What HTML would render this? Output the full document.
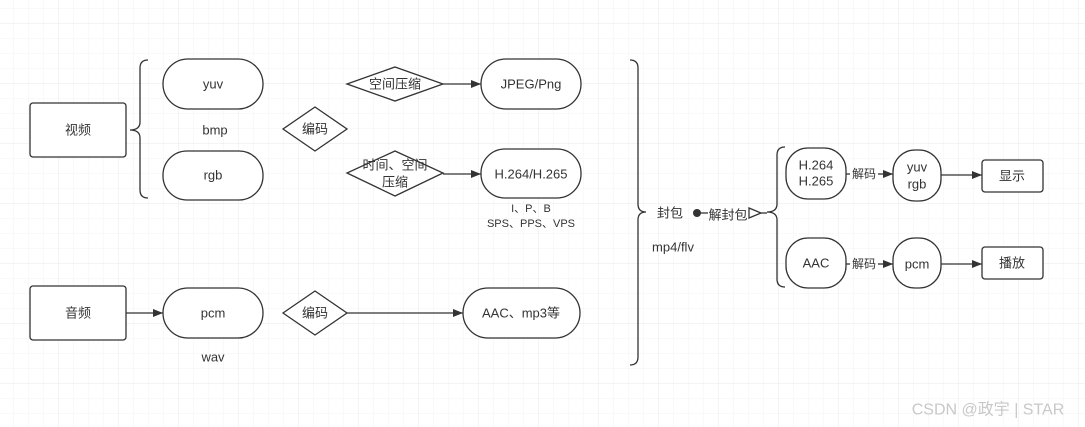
<!DOCTYPE html>
<html><head><meta charset="utf-8"><style>
html,body{margin:0;padding:0;background:#fff;}
svg{display:block;font-family:"Liberation Sans","Noto Sans CJK SC",sans-serif;}
text{font-size:13px;fill:#333;text-anchor:middle;dominant-baseline:central;}
</style></head><body>
<svg width="1085" height="427" viewBox="0 0 1085 427" xmlns="http://www.w3.org/2000/svg">
<defs>
<pattern id="minor" x="-1" y="9" width="15" height="15" patternUnits="userSpaceOnUse"><path d="M15 0V15M0 15H15" stroke="#f3f3f3" stroke-width="1" fill="none"/></pattern>
<pattern id="major" x="-1" y="24" width="60" height="60" patternUnits="userSpaceOnUse"><path d="M60 0V60M0 60H60" stroke="#e8e8e8" stroke-width="1" fill="none"/></pattern>
<marker id="ar" markerWidth="10" markerHeight="8" refX="10" refY="4" orient="auto" markerUnits="userSpaceOnUse"><path d="M0,0 L10,4 L0,8 Z" fill="#333"/></marker>
</defs>
<rect width="1085" height="427" fill="url(#minor)"/>
<rect width="1085" height="427" fill="url(#major)"/>
<g stroke="#333" stroke-width="1.3" fill="#fff">
<rect x="30" y="103" width="96" height="54" rx="3"/>
<rect x="30" y="286" width="96" height="54" rx="3"/>
<path d="M148 60 Q140 60 140 68 V122 Q140 130 130 130 Q140 130 140 138 V190 Q140 198 148 198" fill="none"/>
<rect x="163" y="59" width="100" height="50" rx="25"/>
<rect x="163" y="151" width="100" height="49" rx="24"/>
<rect x="163" y="288" width="100" height="50" rx="25"/>
<path d="M315 107 L347 129 L315 151 L283 129 Z"/>
<path d="M315 291 L347 313 L315 335 L283 313 Z"/>
<path d="M395 67 L443 84 L395 101 L347 84 Z"/>
<path d="M395 151 L443 173 L395 196 L347 173 Z"/>
<rect x="481" y="59" width="100" height="50" rx="25"/>
<rect x="481" y="149" width="100" height="49" rx="24"/>
<rect x="463" y="288" width="117" height="50" rx="25"/>
<path d="M630 60 Q638 60 638 68 V204 Q638 212 646 212 Q638 212 638 220 V357 Q638 365 630 365" fill="none"/>
<path d="M785 147 Q777 147 777 155 V204 Q777 212 767 212 Q777 212 777 220 V279 Q777 287 785 287" fill="none"/>
<rect x="786" y="148" width="60" height="51" rx="22"/>
<rect x="786" y="238" width="60" height="50" rx="22"/>
<rect x="893" y="150" width="48" height="51" rx="22"/>
<rect x="893" y="238" width="48" height="50" rx="22"/>
<rect x="982" y="160" width="61" height="32" rx="3"/>
<rect x="982" y="247" width="61" height="32" rx="3"/>
</g>
<g stroke="#333" stroke-width="1.3" fill="none">
<line x1="443" y1="84" x2="481" y2="84" marker-end="url(#ar)"/>
<line x1="443" y1="174" x2="481" y2="174" marker-end="url(#ar)"/>
<line x1="126" y1="313" x2="163" y2="313" marker-end="url(#ar)"/>
<line x1="347" y1="313" x2="463" y2="313" marker-end="url(#ar)"/>
<line x1="697" y1="213" x2="708" y2="213"/>
<line x1="846" y1="174" x2="850" y2="174"/>
<line x1="878" y1="174" x2="893" y2="174" marker-end="url(#ar)"/>
<line x1="846" y1="264" x2="850" y2="264"/>
<line x1="878" y1="264" x2="893" y2="264" marker-end="url(#ar)"/>
<line x1="941" y1="175" x2="982" y2="175" marker-end="url(#ar)"/>
<line x1="941" y1="264" x2="982" y2="264" marker-end="url(#ar)"/>
<path d="M749 208 L761 213 L749 218 Z" fill="#fff"/>
<line x1="761" y1="213" x2="767" y2="213"/>
</g>
<circle cx="697" cy="213" r="4" fill="#333"/>
<text x="78" y="130">视频</text>
<text x="78" y="313">音频</text>
<text x="213" y="84">yuv</text>
<text x="215" y="130">bmp</text>
<text x="213" y="175">rgb</text>
<text x="213" y="313">pcm</text>
<text x="213" y="357">wav</text>
<text x="315" y="129">编码</text>
<text x="315" y="313">编码</text>
<text x="395" y="84">空间压缩</text>
<text x="395" y="165">时间、空间</text>
<text x="395" y="182">压缩</text>
<text x="531" y="84">JPEG/Png</text>
<text x="531" y="174">H.264/H.265</text>
<text x="531" y="209" style="font-size:11px">I、P、B</text>
<text x="531" y="224" style="font-size:11px">SPS、PPS、VPS</text>
<text x="521" y="313">AAC、mp3等</text>
<text x="670" y="213">封包</text>
<text x="673" y="247">mp4/flv</text>
<text x="728" y="215">解封包</text>
<text x="816" y="165">H.264</text>
<text x="816" y="181">H.265</text>
<text x="864" y="174" style="font-size:12px">解码</text>
<text x="864" y="264" style="font-size:12px">解码</text>
<text x="917" y="167">yuv</text>
<text x="917" y="184">rgb</text>
<text x="816" y="263">AAC</text>
<text x="917" y="264">pcm</text>
<text x="1012" y="176">显示</text>
<text x="1012" y="263">播放</text>
<text x="988" y="410" style="font-size:16px;fill:#c8c8c8">CSDN @政宇 | STAR</text>
</svg>
</body></html>
